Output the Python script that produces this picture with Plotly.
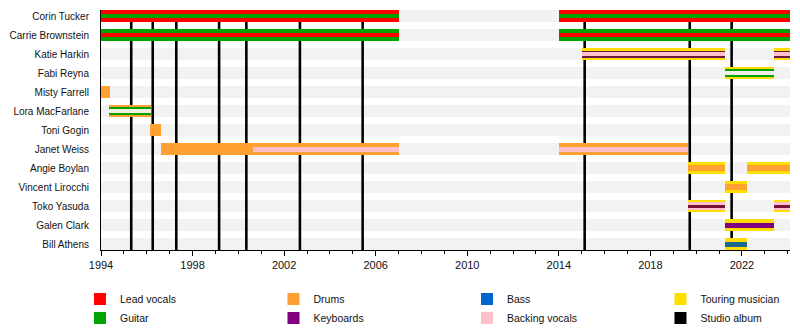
import plotly.graph_objects as go

# ---------------- data ----------------
members = ["Corin Tucker", "Carrie Brownstein", "Katie Harkin", "Fabi Reyna",
           "Misty Farrell", "Lora MacFarlane", "Toni Gogin", "Janet Weiss",
           "Angie Boylan", "Vincent Lirocchi", "Toko Yasuda", "Galen Clark",
           "Bill Athens"]

END = 2024.1

stint_member = ["Corin Tucker", "Corin Tucker",
                "Carrie Brownstein", "Carrie Brownstein",
                "Katie Harkin", "Katie Harkin",
                "Fabi Reyna",
                "Misty Farrell",
                "Lora MacFarlane",
                "Toni Gogin",
                "Janet Weiss", "Janet Weiss", "Janet Weiss",
                "Angie Boylan", "Angie Boylan",
                "Vincent Lirocchi",
                "Toko Yasuda", "Toko Yasuda",
                "Galen Clark",
                "Bill Athens"]
stint_start = [1994.0, 2014.0,
               1994.0, 2014.0,
               2015.0, 2023.4,
               2021.25,
               1994.0,
               1994.35,
               1996.15,
               1996.62, 2000.64, 2014.0,
               2019.65, 2022.2,
               2021.25,
               2019.65, 2023.4,
               2021.25,
               2021.25]
stint_end = [2007.0, END,
             2007.0, END,
             2021.25, END,
             2023.4,
             1994.4,
             1996.2,
             1996.62,
             2000.64, 2007.0, 2019.65,
             2021.25, END,
             2022.2,
             2021.25, END,
             2023.4,
             2022.2]
stint_roles = ["vocals_guitar", "vocals_guitar",
               "guitar_vocals", "guitar_vocals",
               "touring_keys_backing", "touring_keys_backing",
               "touring_guitar",
               "drums",
               "drums_guitar",
               "drums",
               "drums", "drums_backing", "drums_backing",
               "touring_drums", "touring_drums",
               "touring_drums",
               "touring_backing_keys", "touring_backing_keys",
               "touring_keys",
               "touring_bass"]

album_titles = ["Sleater-Kinney", "Call the Doctor", "Dig Me Out", "The Hot Rock",
                "All Hands on the Bad One", "One Beat", "The Woods",
                "No Cities to Love", "The Center Won't Hold", "Path of Wellness"]
album_years = [1995.32, 1996.26, 1997.29, 1999.16, 2000.35, 2002.69, 2005.43,
               2015.13, 2019.72, 2021.55]

legend_labels = ["Lead vocals", "Drums", "Bass", "Touring musician",
                 "Guitar", "Keyboards", "Backing vocals", "Studio album"]

# ---------------- styles ----------------
C = {"Lead vocals": "#ff0000", "Guitar": "#00a300", "Drums": "#ffa033",
     "Keyboards": "#800080", "Bass": "#0066cc", "Backing vocals": "#ffc0cb",
     "Touring musician": "#ffdd00", "Studio album": "#000000"}
ROW_PX = 19.0


def w(px):
    return px / ROW_PX


STACKS = {
    "vocals_guitar": [(C["Lead vocals"], 12), (C["Guitar"], 4)],
    "guitar_vocals": [(C["Guitar"], 12), (C["Lead vocals"], 4)],
    "touring_keys_backing": [(C["Touring musician"], 12), ("#6a1a40", 7), (C["Backing vocals"], 4)],
    "touring_guitar": [(C["Touring musician"], 12), (C["Guitar"], 8), ("#eeeee4", 4)],
    "drums": [(C["Drums"], 12)],
    "drums_guitar": [(C["Drums"], 12), (C["Guitar"], 8), ("#f3eedd", 4)],
    "drums_backing": [(C["Drums"], 12), (C["Backing vocals"], 5)],
    "touring_drums": [(C["Touring musician"], 12), (C["Drums"], 6)],
    "touring_backing_keys": [(C["Touring musician"], 12), (C["Backing vocals"], 8), ("#7a1238", 3)],
    "touring_keys": [(C["Touring musician"], 12), (C["Keyboards"], 5)],
    "touring_bass": [(C["Touring musician"], 12), ("#1a6890", 5)],
}

fig = go.Figure()

for m, s, e, r in zip(stint_member, stint_start, stint_end, stint_roles):
    for color, px in STACKS[r]:
        fig.add_trace(go.Bar(
            orientation="h", y=[m], x=[e - s], base=[s], width=w(px),
            marker=dict(color=color, line=dict(width=0)),
            showlegend=False, hoverinfo="skip"))

for k, lab in enumerate(legend_labels):
    fig.add_trace(go.Bar(orientation="h", y=[None], x=[None], name=lab,
                         marker=dict(color=C[lab], line=dict(width=0)),
                         legendwidth=(90 if k % 4 == 3 else 148.5),
                         showlegend=True, hoverinfo="skip"))

shapes = []
for i, m in enumerate(members):
    shapes.append(dict(type="rect", xref="x", yref="y", x0=1994.0, x1=END,
                       y0=i - w(6), y1=i + w(6), fillcolor="#f2f2f2",
                       line=dict(width=0), layer="below"))
for yr in album_years:
    shapes.append(dict(type="line", xref="x", yref="y", x0=yr, x1=yr,
                       y0=12 + w(6), y1=-w(6), line=dict(color="#000000", width=2.6),
                       layer="below"))

fig.update_layout(
    width=800, height=330,
    margin=dict(l=101, r=10, t=10, b=80, autoexpand=False),
    paper_bgcolor="white", plot_bgcolor="white",
    barmode="overlay", bargap=0,
    font=dict(family="Liberation Sans, Arial, sans-serif", size=11, color="#111"),
    shapes=shapes,
    showlegend=True,
    legend=dict(orientation="h", x=-0.0305, xanchor="left", y=-0.144, yanchor="top",
                font=dict(size=10.5), traceorder="normal",
                bgcolor="rgba(0,0,0,0)", tracegroupgap=0),
    xaxis=dict(range=[1994.0, END], showgrid=False, zeroline=False,
               showline=True, linecolor="#000", linewidth=1,
               tickmode="linear", tick0=1994, dtick=4,
               ticks="outside", ticklen=5, tickcolor="#000",
               minor=dict(tick0=1994, dtick=1, ticks="outside", ticklen=3, tickcolor="#000")),
    yaxis=dict(type="category", categoryorder="array", categoryarray=members,
               range=[12 + w(6), -w(6)], showgrid=False, zeroline=False,
               showline=True, linecolor="#000", linewidth=1,
               tickfont=dict(size=10),
               ticks="", ticklabelstandoff=9),
)

fig.write_html("out.html")
